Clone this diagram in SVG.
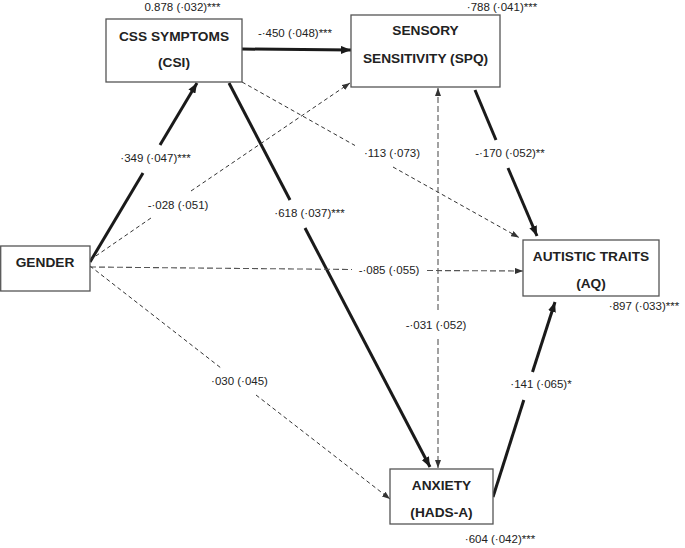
<svg xmlns="http://www.w3.org/2000/svg" width="685" height="548" viewBox="0 0 685 548">
<style>
.box{fill:#fff;stroke:#555;stroke-width:1.3}
.nl{font-family:"Liberation Sans",Arial,sans-serif;font-weight:bold;font-size:13.7px;fill:#222;text-anchor:middle}
.el{font-family:"Liberation Sans",Arial,sans-serif;font-size:11.5px;fill:#222;text-anchor:middle}
.thick{stroke:#1a1a1a;stroke-width:3;fill:none}
.dash{stroke:#333;stroke-width:1;stroke-dasharray:4 3;fill:none}
.ldash{stroke:#555;stroke-width:1.1;stroke-dasharray:6 3;fill:none}
</style>
<defs>
<marker id="ah" viewBox="0 0 10 8" refX="10" refY="4" markerWidth="10" markerHeight="8" markerUnits="userSpaceOnUse" orient="auto">
<path d="M0,0 L10,4 L0,8 z" fill="#1a1a1a"/>
</marker>
<marker id="as" viewBox="0 0 8 6" refX="8" refY="3" markerWidth="8" markerHeight="6" markerUnits="userSpaceOnUse" orient="auto">
<path d="M0,0 L8,3 L0,6 z" fill="#333"/>
</marker>
</defs>
<rect width="685" height="548" fill="#fff"/>
<g id="connectors">
<line class="thick" x1="90" y1="262" x2="143" y2="173"/>
<line class="thick" x1="160" y1="145" x2="197" y2="83" marker-end="url(#ah)"/>
<line class="thick" x1="242" y1="49" x2="351" y2="50" marker-end="url(#ah)"/>
<line class="thick" x1="229" y1="83" x2="290" y2="200"/>
<line class="thick" x1="305" y1="228" x2="430" y2="467" marker-end="url(#ah)"/>
<line class="dash" x1="242" y1="82" x2="355" y2="145.5"/>
<line class="dash" x1="393" y1="167" x2="519" y2="237.5" marker-end="url(#as)"/>
<line class="dash" x1="90" y1="260" x2="151" y2="218"/>
<line class="dash" x1="191" y1="191" x2="350" y2="83" marker-end="url(#as)"/>
<line class="ldash" x1="90" y1="267" x2="352" y2="269.5"/>
<line class="ldash" x1="427" y1="270.5" x2="523" y2="271" marker-end="url(#as)"/>
<line class="dash" x1="90" y1="266" x2="221" y2="368"/>
<line class="dash" x1="256" y1="395" x2="390" y2="499" marker-end="url(#as)"/>
<line class="ldash" x1="438" y1="310" x2="438" y2="88" marker-end="url(#as)"/>
<line class="ldash" x1="438" y1="339" x2="438" y2="468" marker-end="url(#as)"/>
<line class="thick" x1="475" y1="90" x2="496" y2="140"/>
<line class="thick" x1="508" y1="168" x2="537" y2="236" marker-end="url(#ah)"/>
<line class="thick" x1="493" y1="497" x2="523.8" y2="400"/>
<line class="thick" x1="532.5" y1="372" x2="555" y2="302" marker-end="url(#ah)"/>
</g>
<g id="edge-labels">
<text class="el" x="182.5" y="11">0.878 (·032)***</text>
<text class="el" x="295" y="37">-·450 (·048)***</text>
<text class="el" x="502" y="11">·788 (·041)***</text>
<text class="el" x="155.5" y="162">·349 (·047)***</text>
<text class="el" x="178" y="209">-·028 (·051)</text>
<text class="el" x="309.5" y="217">·618 (·037)***</text>
<text class="el" x="392" y="157">·113 (·073)</text>
<text class="el" x="510" y="157">-·170 (·052)**</text>
<text class="el" x="389" y="274">-·085 (·055)</text>
<text class="el" x="644" y="310">·897 (·033)***</text>
<text class="el" x="436" y="329">-·031 (·052)</text>
<text class="el" x="239.5" y="385">·030 (·045)</text>
<text class="el" x="541" y="388">·141 (·065)*</text>
<text class="el" x="500" y="543">·604 (·042)***</text>
</g>
<g id="css">
<rect class="box" x="106" y="19" width="136" height="63"/>
<text class="nl" x="174" y="41">CSS SYMPTOMS</text>
<text class="nl" x="174" y="67">(CSI)</text>
</g>
<g id="spq">
<rect class="box" x="351" y="15" width="149" height="72"/>
<text class="nl" x="425.5" y="35">SENSORY</text>
<text class="nl" x="425.5" y="63">SENSITIVITY (SPQ)</text>
</g>
<g id="gender">
<rect class="box" x="0.7" y="246" width="89.3" height="45"/>
<text class="nl" x="45" y="267">GENDER</text>
</g>
<g id="aq">
<rect class="box" x="523" y="240" width="136" height="56"/>
<text class="nl" x="591" y="261">AUTISTIC TRAITS</text>
<text class="nl" x="591" y="288">(AQ)</text>
</g>
<g id="anxiety">
<rect class="box" x="390" y="469" width="103" height="55"/>
<text class="nl" x="441.5" y="490">ANXIETY</text>
<text class="nl" x="441.5" y="517">(HADS-A)</text>
</g>
</svg>
